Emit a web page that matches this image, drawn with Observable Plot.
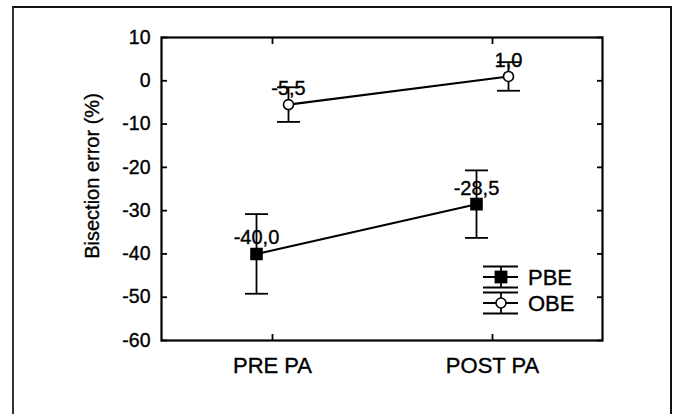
<!DOCTYPE html>
<html>
<head>
<meta charset="utf-8">
<script src="https://cdn.jsdelivr.net/npm/d3@7"></script>
<script src="https://cdn.jsdelivr.net/npm/@observablehq/plot@0.6"></script>
<style>
  html, body { margin: 0; padding: 0; background: #fff; }
  #wrap { position: relative; width: 673px; height: 414px; overflow: hidden; background: #fff; font-family: "Liberation Sans", Arial, Helvetica, sans-serif; }
  #border { position: absolute; left: 12px; top: 6px; width: 656px; height: 440px; border-left: 2px solid #333; border-top: 2px solid #111; border-right: 2px solid #111; }
  #chart { position: absolute; left: 0; top: 0; }
  #legend { position: absolute; left: 0; top: 0; pointer-events: none; }
  svg text { stroke: #000; stroke-width: 0.35px; }
</style>
</head>
<body>
<div id="wrap">
  <div id="border"></div>
  <div id="chart"></div>
  <svg id="legend" width="673" height="414"></svg>
</div>
<script>
// ---- data ----
const phases = ["PRE PA", "POST PA"];
const seriesNames = ["PBE", "OBE"];
const pbeMeans = [-40.0, -28.5];
const pbeErrors = [9.2, 7.8];
const obeMeans = [-5.5, 1.0];
const obeErrors = [4.0, 3.3];
const yTicks = [10, 0, -10, -20, -30, -40, -50, -60];
const yLabel = "Bisection error (%)";

const fmt = v => v.toFixed(1).replace(".", ",");
const makeRows = (name, means, errs) => phases.map((p, i) => ({
  series: name, phase: p, mean: means[i], lo: means[i] - errs[i], hi: means[i] + errs[i], label: fmt(means[i])
}));
const pbe = makeRows("PBE", pbeMeans, pbeErrors);
const obe = makeRows("OBE", obeMeans, obeErrors);

const capSymbol = { draw(ctx) { ctx.moveTo(-11.5, 0); ctx.lineTo(11.5, 0); } };
const sw = 1.8;

function seriesMarks(rows, dx, symbol, fill, r) {
  return [
    Plot.line(rows, {x: "phase", y: "mean", dx, stroke: "black", strokeWidth: 2.1}),
    Plot.ruleX(rows, {x: "phase", y1: "lo", y2: "hi", dx, stroke: "black", strokeWidth: sw}),
    Plot.dot(rows, {x: "phase", y: "lo", dx, symbol: capSymbol, stroke: "black", strokeWidth: sw}),
    Plot.dot(rows, {x: "phase", y: "hi", dx, symbol: capSymbol, stroke: "black", strokeWidth: sw}),
    Plot.dot(rows, {x: "phase", y: "mean", dx, symbol, r, fill, stroke: "black", strokeWidth: 1.6}),
    Plot.text(rows, {x: "phase", y: "mean", dx, dy: -16, text: "label", fontSize: 20, fill: "black"})
  ];
}

const chart = Plot.plot({
  width: 673,
  height: 414,
  marginTop: 37,
  marginBottom: 74,
  marginLeft: 161,
  marginRight: 71,
  style: {fontFamily: "'Liberation Sans', Arial, Helvetica, sans-serif", background: "transparent", color: "black"},
  x: {type: "point", domain: phases, padding: 0.5, label: null},
  y: {domain: [-60, 10], ticks: yTicks, label: null},
  marks: [
    Plot.frame({stroke: "black", strokeWidth: 2.2}),
    Plot.text(yTicks, {y: d => d, text: d => String(d), frameAnchor: "left", textAnchor: "end", dx: -11, fontSize: 19.5, fill: "black"}),
    Plot.axisY(yTicks, {anchor: "left", tickSize: -6, strokeWidth: 1.8, tickFormat: () => "", label: null}),
    Plot.axisY(yTicks, {anchor: "right", tickSize: -6, strokeWidth: 1.8, tickFormat: () => "", label: null}),
    Plot.axisX({anchor: "bottom", tickSize: -6, strokeWidth: 1.8, tickFormat: () => "", label: null}),
    Plot.axisX({anchor: "top", tickSize: -6, strokeWidth: 1.8, tickFormat: () => "", label: null}),
    Plot.axisX({anchor: "bottom", tickSize: 0, tickPadding: 17, fontSize: 22, label: null}),
    Plot.text([yLabel], {frameAnchor: "left", textAnchor: "middle", dx: -69, dy: -13, rotate: -90, fontSize: 20, fill: "black"}),
    ...seriesMarks(pbe, -16, "square", "black", 6.2),
    ...seriesMarks(obe, 16, "circle", "white", 5)
  ]
});
document.getElementById("chart").appendChild(chart);

// ---- legend (inside plot, bottom right) ----
const lg = d3.select("#legend");
const legendRows = [
  {name: seriesNames[0], cy: 277, symbol: "square"},
  {name: seriesNames[1], cy: 303, symbol: "circle"}
];
legendRows.forEach(d => {
  const g = lg.append("g").attr("stroke", "black").attr("stroke-width", 1.8);
  const x0 = 483, x1 = 518, cx = 501;
  [d.cy - 10.5, d.cy, d.cy + 10.5].forEach(y => g.append("line").attr("x1", x0).attr("x2", x1).attr("y1", y).attr("y2", y));
  g.append("line").attr("x1", cx).attr("x2", cx).attr("y1", d.cy - 10.5).attr("y2", d.cy + 10.5);
  if (d.symbol === "square") {
    g.append("rect").attr("x", cx - 5.5).attr("y", d.cy - 5.5).attr("width", 11).attr("height", 11).attr("fill", "black");
  } else {
    g.append("circle").attr("cx", cx).attr("cy", d.cy).attr("r", 5).attr("fill", "white").attr("stroke-width", 1.6);
  }
  lg.append("text").attr("x", 528).attr("y", d.cy).attr("dy", "0.36em")
    .attr("font-size", 22).attr("font-family", "'Liberation Sans', Arial, sans-serif").attr("fill", "black").text(d.name);
});
</script>
</body>
</html>
